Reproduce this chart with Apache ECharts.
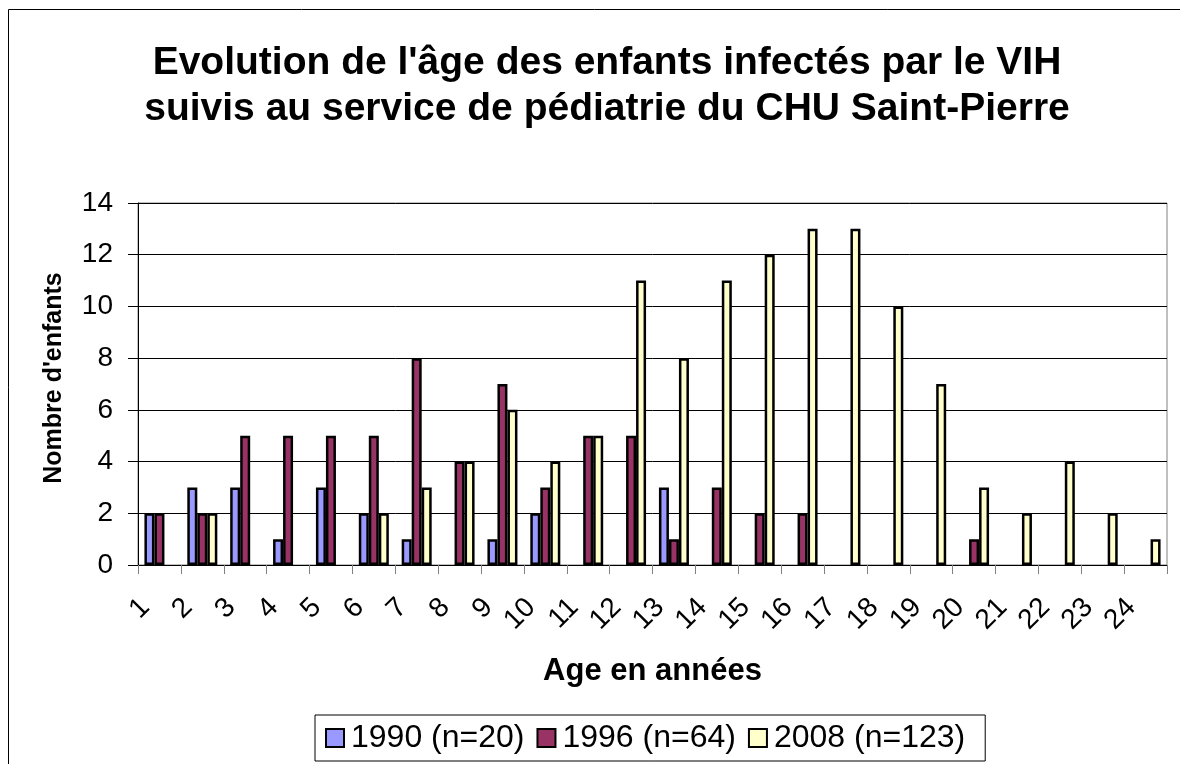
<!DOCTYPE html>
<html>
<head>
<meta charset="utf-8">
<script src="https://cdn.jsdelivr.net/npm/echarts@6/dist/echarts.min.js"></script>
<style>
html,body{margin:0;padding:0;background:#fff;}
#c{width:1180px;height:764px;}
</style>
</head>
<body>
<div id="c"></div>
<script>
const categories = ['1','2','3','4','5','6','7','8','9','10','11','12','13','14','15','16','17','18','19','20','21','22','23','24'];
const s1990 = [2,3,3,1,3,2,1,0,1,2,0,0,3,0,0,0,0,0,0,0,0,0,0,0];
const s1996 = [2,2,5,5,5,5,8,4,7,3,5,5,1,3,2,2,0,0,0,1,0,0,0,0];
const s2008 = [0,2,0,0,0,2,3,4,6,4,5,11,8,11,12,13,13,10,7,3,2,4,2,1];
const seriesNames = ['1990 (n=20)','1996 (n=64)','2008 (n=123)'];
const yTicks = {min:0, max:14, interval:2};

const FONT = '"Liberation Sans", Arial, sans-serif';
const colors = ['#9999FF','#993366','#FFFFCC'];
const chart = echarts.init(document.getElementById('c'), null, {renderer:'canvas'});
const mk = (name, data, i) => ({
  name, type:'bar', data: data.map(v => v === 0 ? null : v),
  barGap:'0%', barCategoryGap:'30%',
  itemStyle:{color:colors[i], borderColor:'#000', borderWidth:2.5},
  animation:false
});
chart.setOption({
  animation:false,
  textStyle:{fontFamily:FONT, color:'#000'},
  graphic:[{type:'rect', shape:{x:8.5,y:9.5,width:1200,height:800}, style:{fill:null, stroke:'#000', lineWidth:1}, silent:true, z:-1}],
  title:{
    text:"Evolution de l'âge des enfants infectés par le VIH\nsuivis au service de pédiatrie du CHU Saint-Pierre",
    left:602, textAlign:'center', top:35,
    textStyle:{fontFamily:FONT, fontSize:39, fontWeight:'bold', color:'#000', lineHeight:46}
  },
  legend:{
    data:seriesNames, left:315, top:715, orient:'horizontal',
    icon:'rect', itemWidth:18, itemHeight:18, itemGap:12,
    borderColor:'#000', borderWidth:1, padding:[7,20,7,10],
    textStyle:{fontFamily:FONT, fontSize:32, color:'#000', padding:[0,0,0,2]},
    itemStyle:{borderColor:'#000', borderWidth:2}
  },
  grid:{left:138, top:203, width:1029, height:362, show:true, borderColor:'#808080', borderWidth:1, backgroundColor:'#fff'},
  xAxis:{
    type:'category', data:categories,
    name:'Age en années', nameLocation:'middle', nameGap:91,
    nameTextStyle:{fontFamily:FONT, fontSize:31, fontWeight:'bold', color:'#000'},
    axisLine:{lineStyle:{color:'#000', width:1}},
    axisTick:{show:true, interval:0, length:9, lineStyle:{color:'#808080'}},
    axisLabel:{rotate:45, fontSize:28, fontFamily:FONT, color:'#000', margin:24, padding:[0,20,0,0], interval:0}
  },
  yAxis:{
    type:'value', min:yTicks.min, max:yTicks.max, interval:yTicks.interval,
    name:"Nombre d'enfants", nameLocation:'middle', nameGap:71,
    nameTextStyle:{fontFamily:FONT, fontSize:25, fontWeight:'bold', color:'#000', padding:[0,0,0,12]},
    axisLine:{show:true, lineStyle:{color:'#000', width:1}},
    axisTick:{show:true, length:10, lineStyle:{color:'#000'}},
    axisLabel:{fontSize:28, fontFamily:FONT, color:'#000', margin:25},
    splitLine:{show:true, lineStyle:{color:'#000', width:1}}
  },
  series:[mk(seriesNames[0], s1990, 0), mk(seriesNames[1], s1996, 1), mk(seriesNames[2], s2008, 2)]
});
</script>
</body>
</html>
